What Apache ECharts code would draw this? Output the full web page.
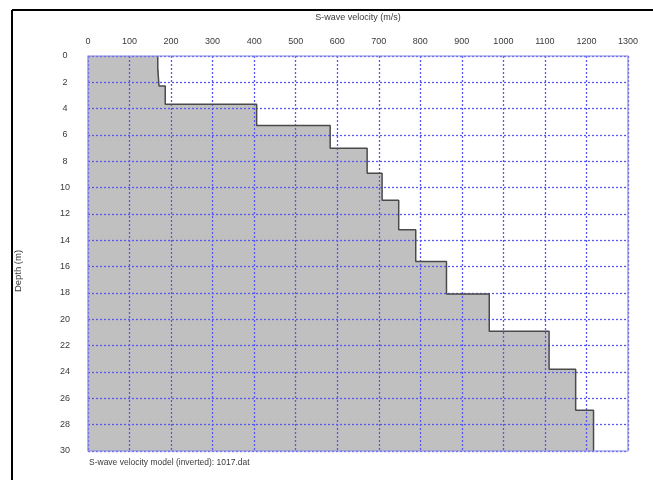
<!DOCTYPE html>
<html>
<head>
<meta charset="utf-8">
<title>S-wave velocity model</title>
<script src="https://cdn.jsdelivr.net/npm/echarts@6/dist/echarts.min.js"></script>
<style>
  html, body { margin: 0; padding: 0; background: #ffffff; }
  #chart { width: 653px; height: 480px; }
</style>
</head>
<body>
<div id="chart"></div>
<script>
// Layered shear-wave velocity profile (inverted model)
const layerVelocity = [168, 171, 186, 406, 583, 672, 708, 748, 789, 863, 966, 1110, 1174, 1217]; // m/s
const layerBottom   = [1.03, 2.28, 3.67, 5.27, 7.0, 8.9, 10.95, 13.2, 15.6, 18.07, 20.9, 23.8, 26.9, 30]; // m
const velocityTicks = [0, 100, 200, 300, 400, 500, 600, 700, 800, 900, 1000, 1100, 1200, 1300];
const depthTicks    = [0, 2, 4, 6, 8, 10, 12, 14, 16, 18, 20, 22, 24, 26, 28, 30];

const FONT = '"Liberation Sans", Arial, sans-serif';
const TEXT = '#3a3a3a';
const GRID_BLUE = '#5656f2';
const FRAME_BLUE = '#8a8ae8';

// Step outline: each layer is a vertical segment from its top to its bottom
const outline = [];
let layerTop = 0;
for (let i = 0; i < layerVelocity.length; i++) {
  outline.push([layerVelocity[i], layerTop]);
  outline.push([layerVelocity[i], layerBottom[i]]);
  layerTop = layerBottom[i];
}
// Filled region: outline closed back along the surface axis
const fillPoly = [[0, 0]].concat(outline, [[0, layerBottom[layerBottom.length - 1]]]);

const chart = echarts.init(document.getElementById('chart'), null, { renderer: 'canvas' });

chart.setOption({
  backgroundColor: '#ffffff',
  animation: false,
  textStyle: { fontFamily: FONT },
  grid: {
    left: 88, top: 56, right: 25, bottom: 29,
    show: true, z: 10,
    backgroundColor: 'transparent',
    borderColor: FRAME_BLUE, borderWidth: 1.2
  },
  xAxis: {
    type: 'value', position: 'top',
    min: velocityTicks[0], max: velocityTicks[velocityTicks.length - 1], interval: 100,
    z: 4,
    name: 'S-wave velocity (m/s)', nameLocation: 'middle', nameGap: 34,
    nameTextStyle: { fontSize: 9, color: TEXT, fontFamily: FONT },
    axisLine: { show: false },
    axisTick: { show: false },
    axisLabel: { fontSize: 9, color: TEXT, fontFamily: FONT, margin: 10, formatter: v => String(v) },
    splitLine: { show: true, lineStyle: { color: GRID_BLUE, width: 1.3, type: [2, 2] } }
  },
  yAxis: {
    type: 'value', inverse: true,
    min: depthTicks[0], max: depthTicks[depthTicks.length - 1], interval: 2,
    z: 4,
    axisLine: { show: false },
    axisTick: { show: false },
    axisLabel: { fontSize: 9, color: TEXT, fontFamily: FONT, align: 'center', margin: 23, formatter: v => String(v) },
    splitLine: { show: true, lineStyle: { color: GRID_BLUE, width: 1.3, type: [2, 2] } }
  },
  series: [
    {
      type: 'custom',
      z: 1,
      silent: true,
      data: [0],
      renderItem: function (params, api) {
        const pts = fillPoly.map(p => api.coord(p));
        return {
          type: 'polygon',
          shape: { points: pts },
          style: { fill: '#c0c0c0', stroke: null }
        };
      }
    },
    {
      type: 'line',
      z: 6,
      silent: true,
      data: outline,
      symbol: 'none',
      lineStyle: { color: '#4a4a4a', width: 1.5 }
    }
  ],
  graphic: [
    { type: 'line', z: 20, shape: { x1: 12, y1: 10, x2: 653, y2: 10 }, style: { stroke: '#000', lineWidth: 2 } },
    { type: 'line', z: 20, shape: { x1: 12, y1: 10, x2: 12, y2: 480 }, style: { stroke: '#000', lineWidth: 2 } },
    {
      type: 'text', x: 18, y: 271, rotation: Math.PI / 2,
      style: { text: 'Depth (m)', fill: TEXT, font: '9.5px ' + FONT, align: 'center', verticalAlign: 'middle' }
    },
    {
      type: 'text', x: 89, y: 463,
      style: { text: 'S-wave velocity model (inverted): 1017.dat', fill: TEXT, font: '8.5px ' + FONT, align: 'left', verticalAlign: 'middle' }
    }
  ]
});
</script>
</body>
</html>
